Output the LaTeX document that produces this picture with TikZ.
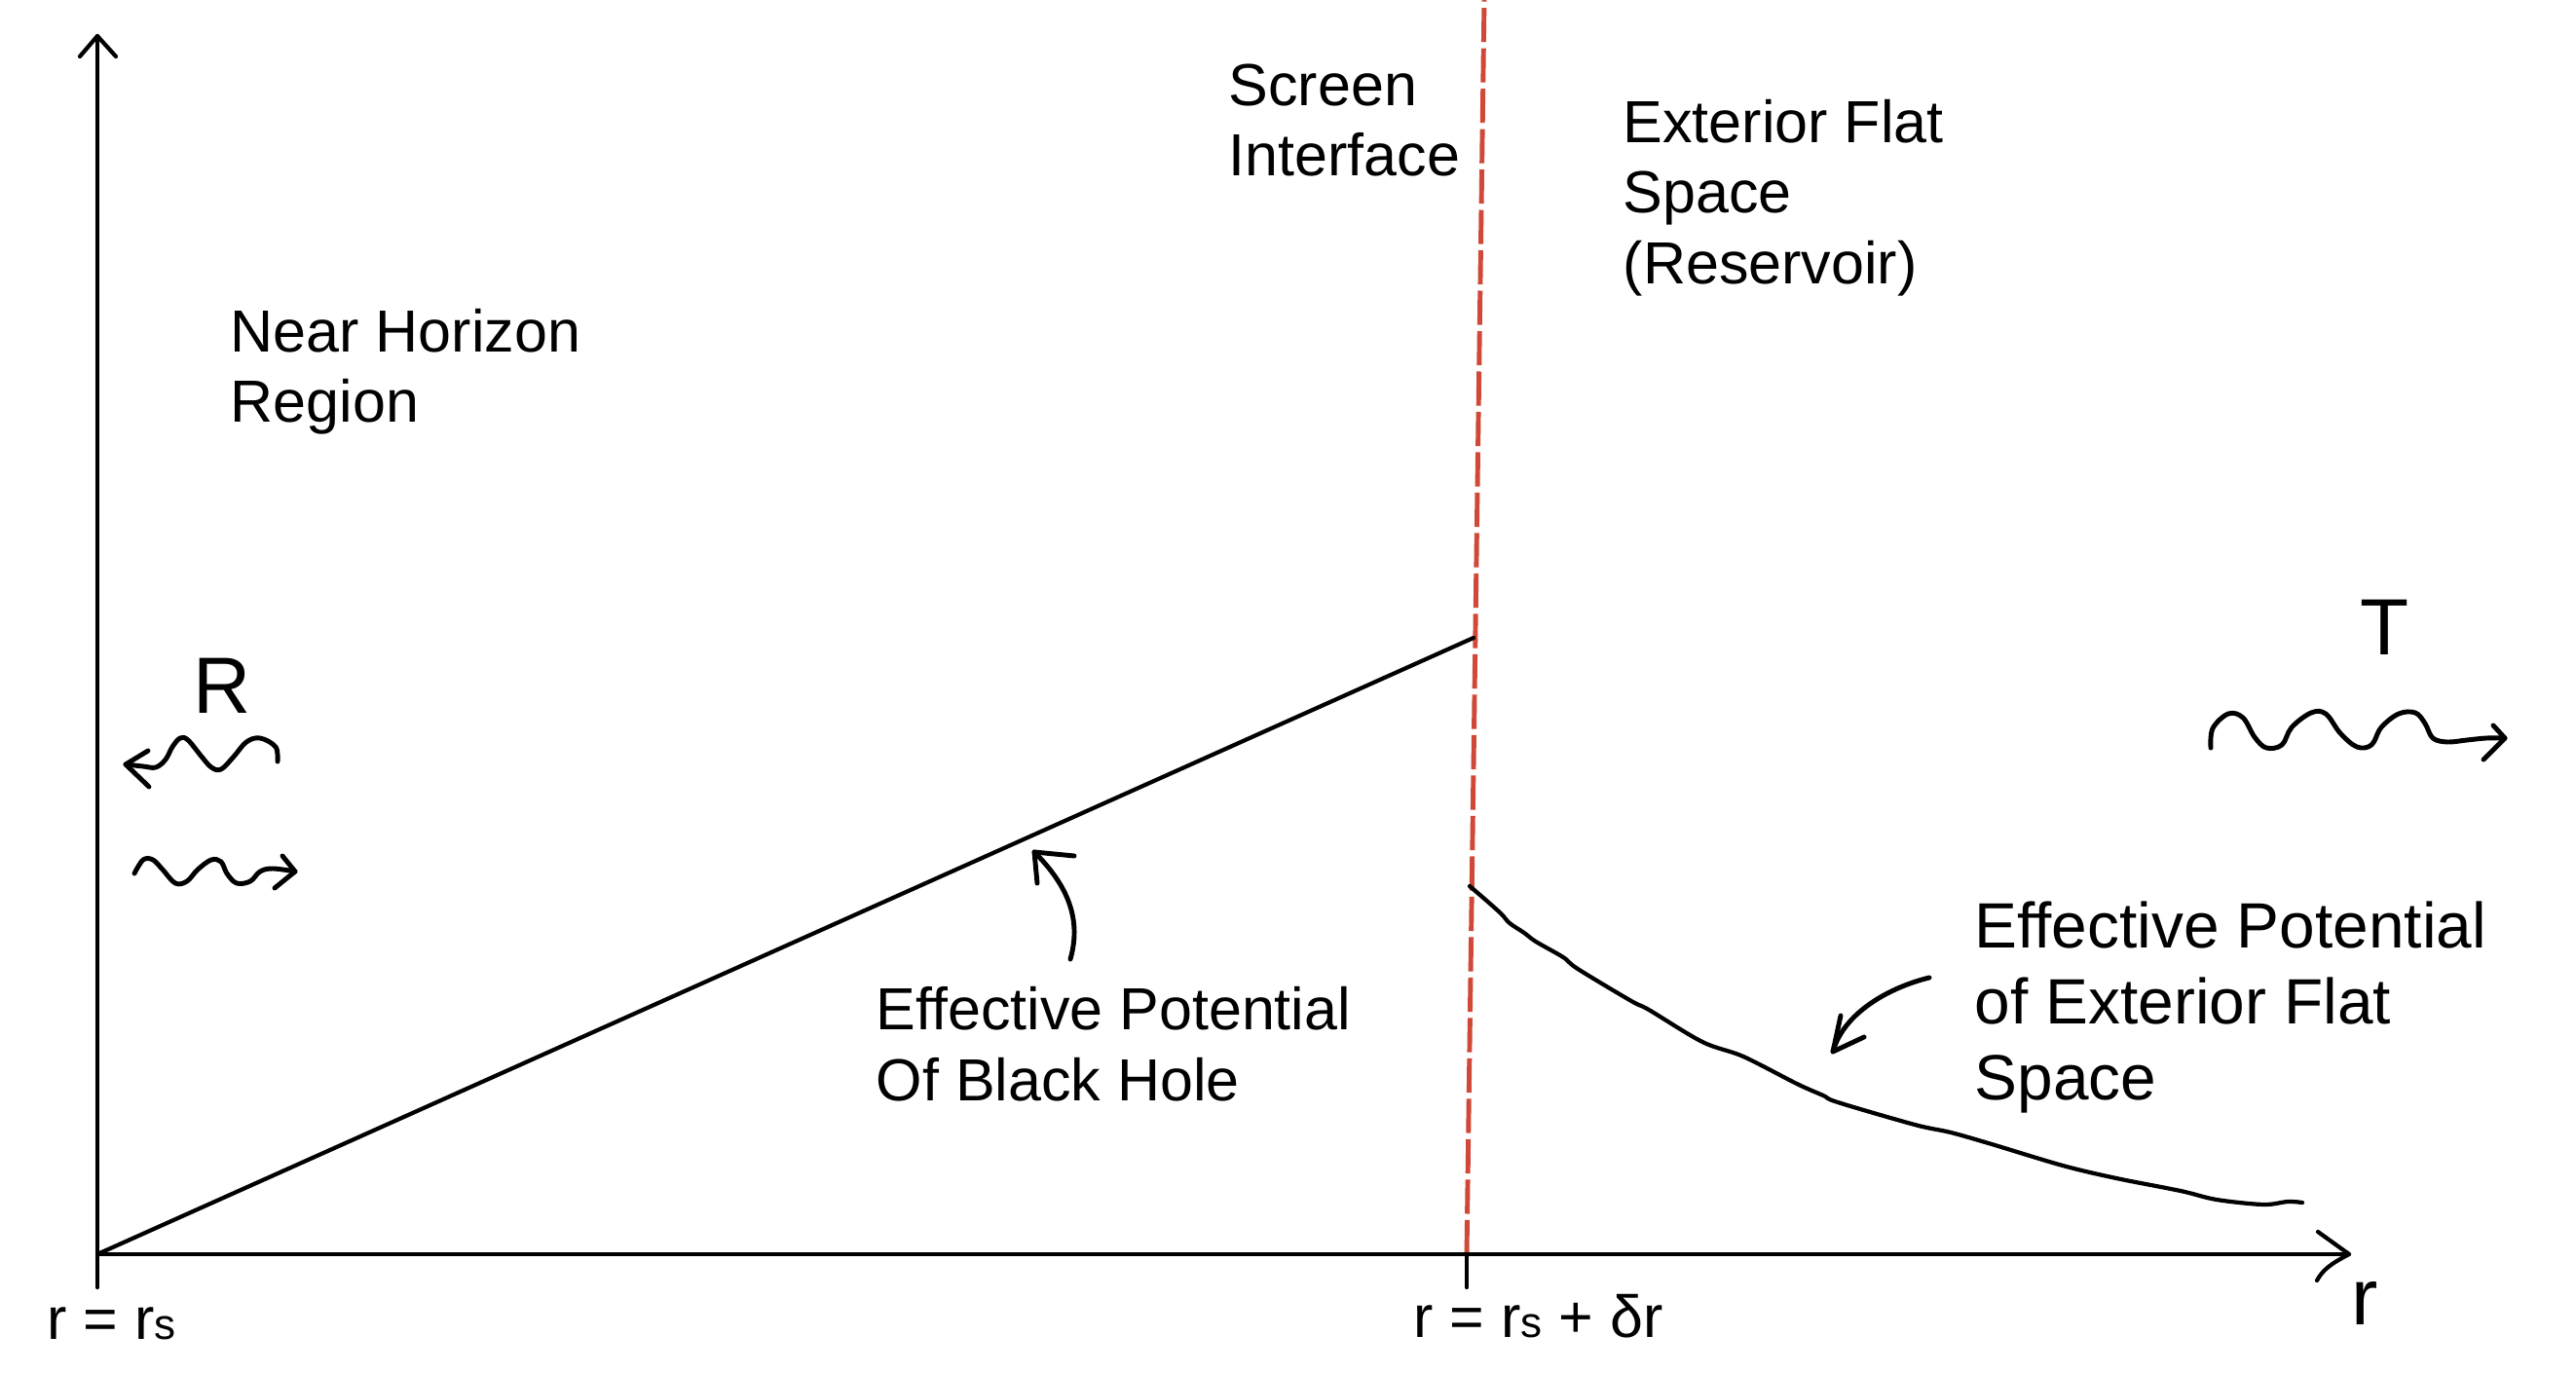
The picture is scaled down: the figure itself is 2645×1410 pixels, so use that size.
\documentclass[tikz,border=0pt]{standalone}
\usepackage{fontspec}
\setmainfont{Liberation Sans}
\definecolor{screenred}{RGB}{208,72,56}
\begin{document}
\begin{tikzpicture}[x=0.01cm,y=-0.01cm,
  ink/.style={line width=1.2pt,line cap=round,line join=round},
  hand/.style={line width=1.4pt,line cap=round,line join=round},
  screenline/.style={draw=screenred,line width=1.4pt,dash pattern=on 10pt off 1.8pt},
  lbl/.style={inner sep=0pt,anchor=north west,align=left,font=\fontsize{17.35}{20.5}\selectfont},
  lblbig/.style={inner sep=0pt,anchor=north west,align=left,font=\fontsize{18.7}{22.2}\selectfont},
  axlbl/.style={inner sep=0pt,anchor=base west,font=\fontsize{17.35}{20.5}\selectfont},
  bigl/.style={inner sep=0pt,anchor=base,font=\fontsize{23.3}{28}\selectfont}]
\useasboundingbox (0,0) rectangle (2645,1410);
\fill[white] (0,0) rectangle (2645,1410);

% key points
\coordinate (O) at (100,1288);
\coordinate (Ytop) at (100,37);
\coordinate (Ybot) at (100,1322);
\coordinate (Xend) at (2412,1288);
\coordinate (S) at (1506,1288);
\coordinate (Sbot) at (1506,1322);
\coordinate (Stop) at (1524,0);
\coordinate (P) at (1513,655);

% screen interface
\draw[screenline] (S) -- (Stop);

% axes
\draw[ink] (Ybot) -- (Ytop);
\draw[ink] (82,58) -- (Ytop) -- (119,58);
\draw[ink] (O) -- (Xend);
\draw[ink] (2380,1265) -- (Xend) .. controls (2393,1298) and (2385,1304) .. (2379,1315);
\draw[ink] (S) -- (Sbot);

% black hole potential
\draw[ink] (O) -- (P);

% exterior potential
\draw[ink] plot[smooth,tension=0.55] coordinates {(1509,910) (1523,922) (1541,938) (1550,948) (1565,958) (1577,967) (1605,983) (1620,995) (1675,1028) (1693,1037) (1748,1070) (1790,1085) (1845,1113) (1872,1125) (1887,1132) (1966,1155) (2003,1163) (2045,1175) (2118,1197) (2173,1210) (2239,1223) (2276,1232) (2324,1237) (2349,1234) (2364,1235)};

% labels
\node[lbl] (scr) at (1261,65) {Screen\\Interface};
\node[lbl] (ext) at (1666,102) {Exterior Flat\\Space\\(Reservoir)};
\node[lbl] (nh) at (236,317) {Near Horizon\\Region};
\node[lbl] (bh) at (899,1013) {Effective Potential\\Of Black Hole};
\node[lblbig] (ex) at (2027,925) {Effective Potential\\of Exterior Flat\\Space};
\node[bigl] (R) at (228,733) {R};
\node[bigl] (T) at (2448,673) {T};
\node[bigl] (raxis) at (2428,1360) {r};
\node[axlbl] (rs) at (48,1375) {r = r{\fontsize{12.5}{15}\selectfont s}};
\node[axlbl] (rsd) at (1451,1373) {r = r{\fontsize{12.5}{15}\selectfont s} + δr};

% pointer arrows
\draw[hand] (1099,985) .. controls (1112,940) and (1092,905) .. (1062,875);
\draw[hand] (1065,907) -- (1062,875) -- (1103,879);
\draw[hand] (1981,1004) .. controls (1940,1014) and (1893,1040) .. (1882,1080);
\draw[hand] (1890,1043) -- (1882,1080) -- (1914,1065);

% reflected wave (left)
\draw[hand] plot[smooth,tension=0.6] coordinates {(285,782) (283,767) (267,758) (253,762) (240,777) (227,790) (217,788) (207,777) (193,760) (185,758) (177,767) (170,780) (160,788) (147,787) (129,785)};
\draw[hand] (152,771) -- (129,785) -- (153,808);
% incoming wave (right)
\draw[hand] plot[smooth,tension=0.6] coordinates {(138,897) (147,883) (157,883) (167,893) (180,907) (192,905) (203,893) (217,883) (227,885) (233,897) (243,907) (257,905) (267,895) (280,892) (303,895)};
\draw[hand] (290,879) -- (303,895) -- (282,912);
% transmitted wave
\draw[hand] plot[smooth,tension=0.6] coordinates {(2270,768) (2272,748) (2288,733) (2303,737) (2315,757) (2327,768) (2343,765) (2353,747) (2373,732) (2388,733) (2403,753) (2420,767) (2435,765) (2445,747) (2463,733) (2480,732) (2490,743) (2498,758) (2513,762) (2533,760) (2553,758) (2572,758)};
\draw[hand] (2560,745) -- (2572,758) -- (2550,780);
\end{tikzpicture}
\end{document}
